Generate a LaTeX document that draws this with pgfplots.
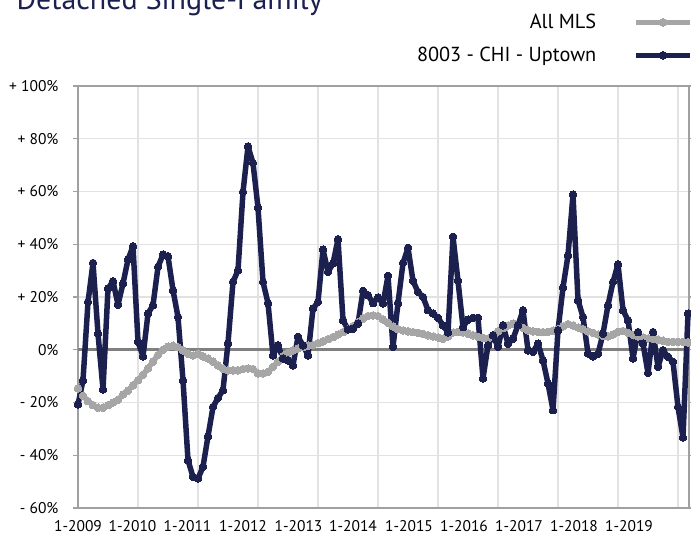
\documentclass[border=0pt]{standalone}
\usepackage{pgfplots}
\pgfplotsset{compat=1.18}
\usepackage{pgfplotstable}
\usepackage{fontspec}
\setmainfont{PT Sans}
\definecolor{navy}{RGB}{28,32,78}
\definecolor{mlsgray}{RGB}{166,166,166}
\definecolor{zerogray}{RGB}{128,128,128}
\definecolor{gridc}{RGB}{226,226,226}
\definecolor{axisc}{RGB}{160,160,160}

\pgfplotstableread{
idx mls nav
0 -14.7 -20.8
1 -17.5 -11.6
2 -19.5 18.1
3 -21 32.9
4 -22 6.1
5 -22 -15
6 -21 23.2
7 -20 26
8 -19 17.1
9 -17 25.1
10 -15.5 34.2
11 -13.5 39.2
12 -11.5 3.0
13 -9.5 -2.5
14 -7 13.7
15 -4.5 16.9
16 -2 31.4
17 0 36.1
18 1.2 35.4
19 1.5 22.6
20 1 12.4
21 -0.2 -11.6
22 -1.5 -41.9
23 -2.2 -48.2
24 -1.5 -48.8
25 -2.5 -44.4
26 -3.3 -32.8
27 -4.5 -21.7
28 -6 -18.3
29 -7.2 -15.3
30 -7.8 2.5
31 -7.8 25.7
32 -7.8 30.1
33 -7.3 59.8
34 -7.1 77.1
35 -7.3 70.8
36 -9 53.9
37 -9 25.7
38 -8.4 17.7
39 -6.5 -2.1
40 -4.5 1.7
41 -2.5 -3.3
42 -1.2 -4
43 -0.2 -5.9
44 0.5 4.9
45 1 1.7
46 1.5 -2.1
47 1.8 15.6
48 2.5 18.1
49 3.2 38
50 4 29.5
51 4.8 32.7
52 5.8 41.9
53 6.7 11.2
54 7.8 7.7
55 9 8
56 10.5 9.9
57 11.8 22.3
58 12.8 20.7
59 13 17.7
60 12.8 19.8
61 11.5 17.5
62 10.2 28
63 8.8 1.1
64 7.8 17.7
65 7.3 32.9
66 7 38.6
67 6.7 26.1
68 6.4 21.9
69 6 20
70 5.5 15
71 5 13.7
72 4.6 12.1
73 4.2 9.3
74 5 6.5
75 6.5 42.8
76 6.8 26.1
77 6.5 8.6
78 6.1 11.4
79 5.5 12.1
80 4.9 12.1
81 4.5 -10.9
82 4.2 1.7
83 5.5 5.5
84 7 1.1
85 8.2 9.3
86 9.2 2.3
87 9.9 4.2
88 9.3 9.3
89 8.3 15
90 7.4 -0.2
91 7 -0.8
92 6.8 2.3
93 6.7 -4
94 6.8 -12.8
95 7.2 -22.9
96 7.8 7.4
97 8.8 23.6
98 9.7 35.8
99 9.2 58.8
100 8.4 18.8
101 7.8 12.4
102 7 -1.4
103 6.4 -2.5
104 5.8 -1.5
105 5.3 6.1
106 5.1 16.9
107 5.8 25.7
108 6.8 32.4
109 7.1 15
110 6.4 11.2
111 5.6 -3.3
112 5 6.7
113 4.6 2.3
114 4.3 -8.8
115 4.2 6.7
116 3.8 -6.5
117 3.4 -0.2
118 3 -2.7
119 3 -4.6
120 3 -21.7
121 3 -33.3
122 2.8 13.7
}\datatable

\pgfplotstableread{
x y
0 0
122.2 0
}\zeroline

\begin{document}
\begin{tikzpicture}
\begin{axis}[
  at={(78bp,27bp)}, anchor=south west,
  scale only axis, width=611bp, height=422bp,
  xmin=0, xmax=122.2, ymin=-60, ymax=100,
  xtick={0,12,...,120}, xticklabels={},
  extra x ticks={0,10.9,21.9,33,44.1,55,66.2,77.2,88.2,99.2,110.2},
  extra x tick labels={1-2009,1-2010,1-2011,1-2012,1-2013,1-2014,1-2015,1-2016,1-2017,1-2018,1-2019},
  extra x tick style={grid=none, major tick length=0pt},
  ytick={-60,-40,...,100},
  yticklabels={- 60\%,- 40\%,- 20\%,0\%,+ 20\%,+ 40\%,+ 60\%,+ 80\%,+ 100\%},
  xmajorgrids, ymajorgrids,
  grid style={draw=gridc, line width=1.2bp},
  axis line style={draw=axisc, line width=1.2bp},
  xtick style={draw=none},
  ytick style={draw=axisc, line width=1.2bp},
  tick align=outside, major tick length=5bp,
  ticklabel style={font=\fontsize{15.5bp}{18bp}\selectfont, text=black},
  xticklabel style={yshift=-9bp},
  yticklabel style={xshift=-11bp},
  legend plot pos=right,
  legend cell align=right,
  legend style={at={(1.0065,1.175)}, anchor=north east, draw=none, fill=none,
    inner sep=0pt, font=\fontsize{20.3bp}{24bp}\selectfont,
    row sep=13bp, column sep=35bp, nodes={inner sep=2bp}},
  legend image code/.code={\draw[#1, mark repeat=2, mark phase=2] plot coordinates {(0bp,0bp) (27bp,0bp) (54bp,0bp)};},
  clip=false,
]
\addplot[zerogray, line width=3bp, forget plot] table[x=x, y=y] {\zeroline};
\addplot[mlsgray, line width=5.5bp, line join=round, mark=*, mark size=3.8bp,
  mark options={fill=mlsgray, draw=mlsgray, line width=0pt}] table[x=idx, y=mls] {\datatable};
\addplot[navy, line width=5.5bp, line join=round, mark=*, mark size=3.8bp,
  mark options={fill=navy, draw=navy, line width=0pt}] table[x=idx, y=nav] {\datatable};
\legend{All MLS, 8003 - CHI - Uptown\hspace{13bp}}
\end{axis}
\node[anchor=base west, text=navy, font=\fontsize{30bp}{35bp}\selectfont] at (13bp,525bp) {Detached Single-Family};
\pgfresetboundingbox
\path[use as bounding box] (0,0) rectangle (691bp,535bp);
\end{tikzpicture}
\end{document}
